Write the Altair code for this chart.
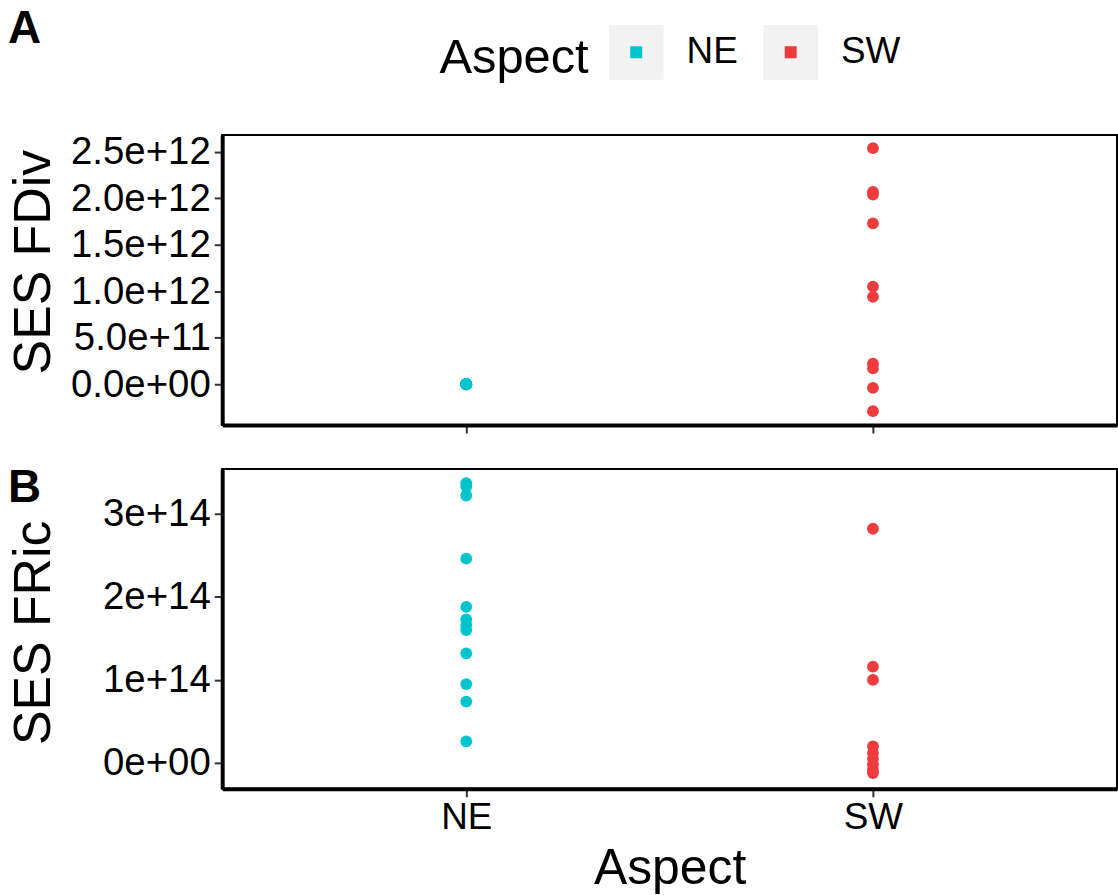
import altair as alt
import pandas as pd

aspect_levels = ["NE", "SW"]
aspect_colors = ["#00C5CD", "#EE3B3B"]

# Panel A: SES FDiv
fdiv_ne = [2e9, -1e9, 0.5e9, 1.5e9, -2e9, 0.0, 1e9, -0.5e9, 3e9, -1.5e9]
fdiv_sw = [2.54e12, 2.07e12, 2.04e12, 1.73e12, 1.05e12, 0.94e12, 0.22e12, 0.17e12, -0.04e12, -0.29e12]
fdiv_ticks = [0.0, 5e11, 1e12, 1.5e12, 2e12, 2.5e12]
fdiv_domain = [-0.44e12, 2.68e12]

# Panel B: SES FRic
fric_ne = [3.37e14, 3.33e14, 3.22e14, 2.46e14, 1.88e14, 1.73e14, 1.66e14, 1.60e14, 1.32e14, 0.95e14, 0.74e14, 0.26e14]
fric_sw = [2.82e14, 1.16e14, 1.00e14, 0.20e14, 0.12e14, 0.05e14, -0.02e14, -0.08e14, -0.12e14]
fric_ticks = [0.0, 1e14, 2e14, 3e14]
fric_domain = [-0.31e14, 3.54e14]

df_a = pd.DataFrame({"Aspect": ["NE"] * len(fdiv_ne) + ["SW"] * len(fdiv_sw),
                     "value": fdiv_ne + fdiv_sw})
df_b = pd.DataFrame({"Aspect": ["NE"] * len(fric_ne) + ["SW"] * len(fric_sw),
                     "value": fric_ne + fric_sw})

FONT = "Liberation Sans"
W = 898

color_enc = alt.Color(
    "Aspect:N",
    scale=alt.Scale(domain=aspect_levels, range=aspect_colors),
    legend=alt.Legend(
        orient="none", legendX=218, legendY=-111,
        direction="horizontal", title="Aspect", titleOrient="left",
        titleFontSize=49, titleFontWeight="normal", titleColor="black", titleFont=FONT,
        titlePadding=20, titleAnchor="start", titleBaseline="line-top", titleLineHeight=70,
        labelFontSize=37, labelColor="black", labelFont=FONT, labelOffset=23,
        columnPadding=-8,
        symbolType="square", symbolSize=1122, symbolStrokeWidth=21.5,
        symbolStrokeColor="#F2F2F2", symbolOpacity=1,
    ),
)

x_scale = alt.Scale(type="point", domain=aspect_levels, padding=0.6)

panel_a = alt.Chart(
    df_a,
    title=alt.TitleParams("A", anchor="start", dx=0, dy=-76, fontSize=46,
                          fontWeight="bold", font=FONT, color="black"),
).mark_circle(size=140, opacity=1).encode(
    x=alt.X("Aspect:N", scale=x_scale, axis=alt.Axis(labels=False, title=None)),
    y=alt.Y("value:Q", scale=alt.Scale(domain=fdiv_domain, nice=False, zero=False),
            axis=alt.Axis(values=fdiv_ticks, title="SES FDiv", titleX=-173, titleY=127,
                          titleBaseline="alphabetic", titleFontSize=52, labelFontSize=38.5,
                          labelExpr="replace(format(datum.value, '.1e'), 'e+0', 'e+00')")),
    color=color_enc,
).properties(width=W, height=291)

panel_b = alt.Chart(
    df_b,
    title=alt.TitleParams("B", anchor="start", dx=0, dy=47, fontSize=46,
                          fontWeight="bold", font=FONT, color="black"),
).mark_circle(size=140, opacity=1).encode(
    x=alt.X("Aspect:N", scale=x_scale,
            axis=alt.Axis(title="Aspect", labelAngle=0, labelPadding=3, titlePadding=8,
                          titleFontSize=50)),
    y=alt.Y("value:Q", scale=alt.Scale(domain=fric_domain, nice=False, zero=False),
            axis=alt.Axis(values=fric_ticks, title="SES FRic", titleX=-173, titleY=164,
                          titleBaseline="alphabetic", titleFontSize=52, labelFontSize=38.5,
                          labelExpr="replace(format(datum.value, '.0e'), 'e+0', 'e+00')")),
    color=color_enc,
).properties(width=W, height=321)

chart = alt.vconcat(panel_a, panel_b, spacing=29).properties(
    padding={"left": 7, "top": 3, "right": 0, "bottom": 0},
    background="white",
).configure_view(
    stroke="black", strokeWidth=2
).configure_axis(
    grid=False, domainColor="black", domainWidth=4,
    tickColor="#333333", tickWidth=2, tickSize=8,
    labelFont=FONT, labelFontSize=37, labelColor="black", labelPadding=4,
    titleFont=FONT, titleFontSize=48, titleFontWeight="normal", titleColor="black",
    titlePadding=12,
)

chart.save("out.html", embed_options={"renderer": "svg", "actions": False})
